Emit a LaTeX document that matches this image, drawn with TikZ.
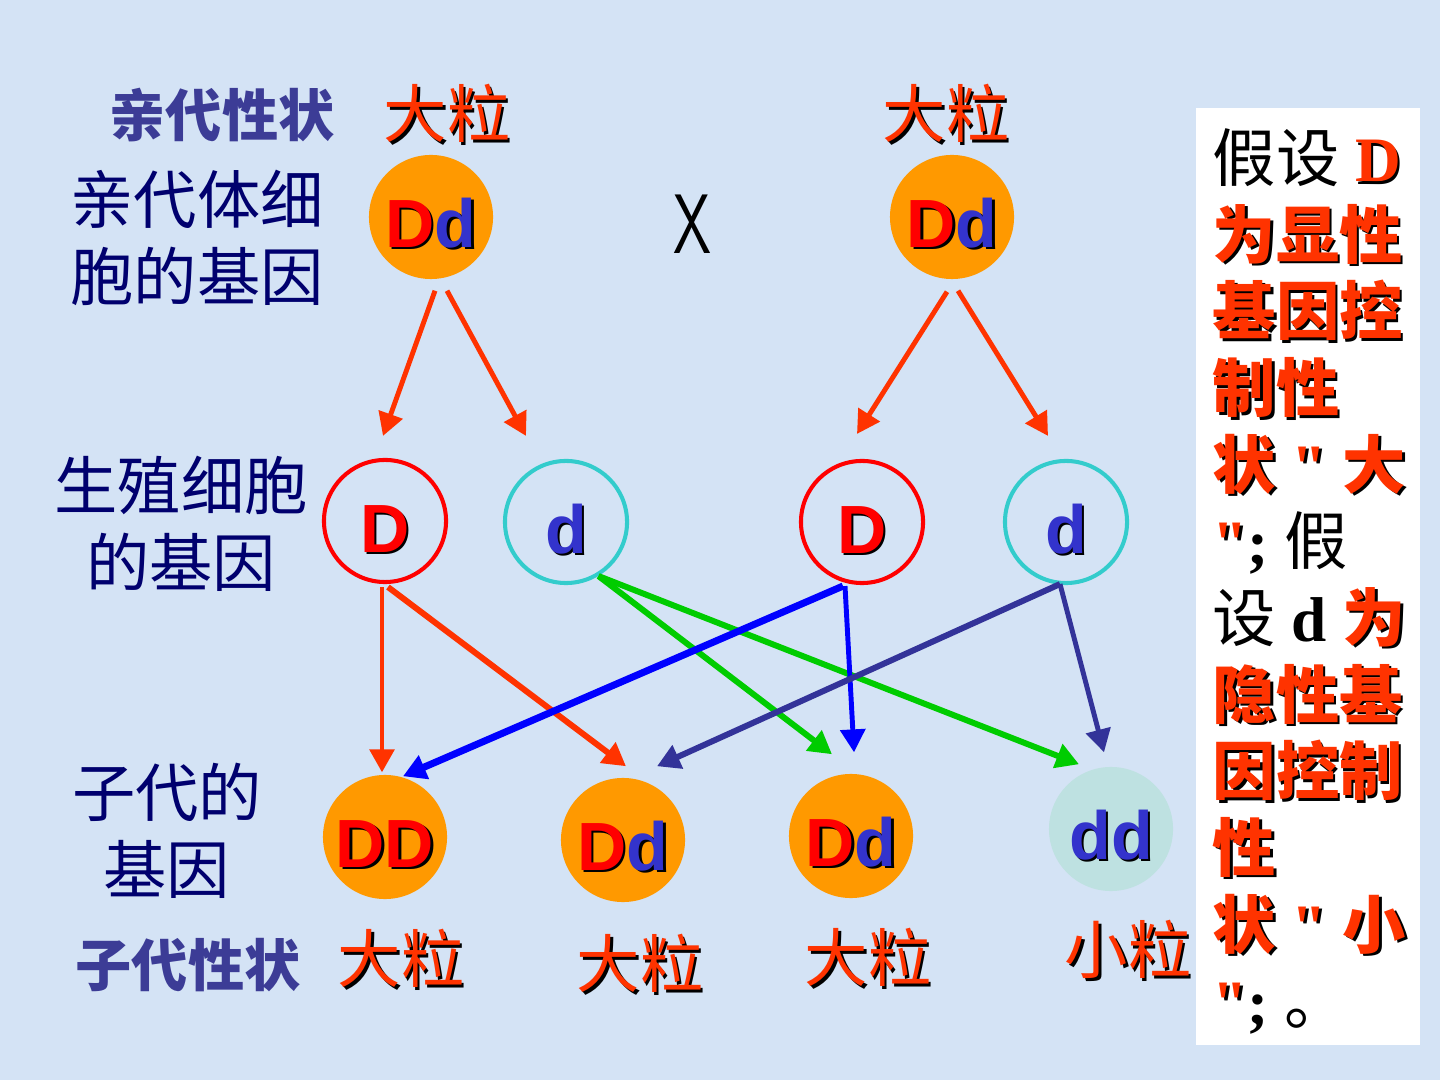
\documentclass[tikz,border=0pt]{standalone}
\usepackage{fontspec}
\setmainfont{Liberation Serif}
\newfontfamily\cjk{Noto Sans CJK SC}
\newfontfamily\arial{Liberation Sans}
\newfontfamily\tnr{Liberation Serif}
\usetikzlibrary{arrows.meta, positioning, calc}

\definecolor{bgblue}{RGB}{212,227,245}
\definecolor{navy}{RGB}{0,0,110}
\definecolor{slate}{RGB}{60,60,150}
\definecolor{tred}{RGB}{255,51,0}
\definecolor{gred}{RGB}{255,0,0}
\definecolor{gblue}{RGB}{51,51,204}
\definecolor{ball}{RGB}{255,153,0}
\definecolor{pale}{RGB}{190,225,225}
\definecolor{ringcyan}{RGB}{51,204,204}
\definecolor{agreen}{RGB}{0,204,0}
\definecolor{ablue}{RGB}{0,0,255}
\definecolor{aslate}{RGB}{51,51,153}

% text with a small black drop shadow
\newcommand\shd[2]{\makebox[0pt][l]{\hspace{0.7pt}\raisebox{-0.7pt}{\color{black}#2}}{\color{#1}#2}}

\begin{document}
\begin{tikzpicture}[
    x=0.01cm, y=-0.01cm,
    parent/.style={circle, fill=ball, minimum size=1.24cm, inner sep=0pt,
      text height=17.3pt, text depth=0pt,
      font=\arial\bfseries\fontsize{19.4}{20}\selectfont},
    kidpale/.style={parent, fill=pale},
    gamD/.style={circle, draw=gred, line width=1.15pt, minimum size=1.22cm, inner sep=0pt,
      text height=17.8pt, text depth=0pt,
      font=\arial\bfseries\fontsize{19.4}{20}\selectfont},
    gamd/.style={gamD, draw=ringcyan},
    rowlab/.style={font=\cjk\fontsize{18}{22}\selectfont, text=navy, align=center, inner sep=0pt},
    traitlab/.style={font=\cjk\bfseries\fontsize{16}{18}\selectfont, text=slate, inner sep=0pt},
    grain/.style={font=\cjk\fontsize{18}{20}\selectfont, inner sep=0pt},
    link/.style={-{Triangle[length=6.5pt,width=7pt]}, line width=#1},
    link/.default=1.4pt
  ]

    % Background
    \fill[bgblue] (0,0) rectangle (1440,1080);

    % Row labels
    \node[traitlab] (ptrait) at (222,115) {亲代性状};
    \node[rowlab] (prow) at (197,238) {亲代体细\\胞的基因};
    \node[rowlab] (grow) at (181,524) {生殖细胞\\的基因};
    \node[rowlab] (krow) at (167,831) {子代的\\基因};
    \node[traitlab] (ktrait) at (188,965) {子代性状};

    % Parents
    \node[grain] (pbig1) at (447,115) {\shd{tred}{大粒}};
    \node[grain] (pbig2) at (946,115) {\shd{tred}{大粒}};
    \node[parent] (p1) at (431,217) {\shd{gred}{D}\shd{gblue}{d}};
    \node[parent] (p2) at (952,217) {\shd{gred}{D}\shd{gblue}{d}};
    \node (cross) at (692,224) {\sffamily\fontsize{24}{24}\selectfont\scalebox{0.72}[1]{X}};

    % Gametes
    \node[gamD] (g1) at (385,521) {\shd{gred}{D}};
    \node[gamd] (g2) at (566,522) {\shd{gblue}{d}};
    \node[gamD] (g3) at (862,522) {\shd{gred}{D}};
    \node[gamd] (g4) at (1066,522) {\shd{gblue}{d}};

    % Offspring
    \node[parent] (o1) at (385,837) {\shd{gred}{DD}};
    \node[parent] (o2) at (623,840) {\shd{gred}{D}\shd{gblue}{d}};
    \node[parent] (o3) at (851,836) {\shd{gred}{D}\shd{gblue}{d}};
    \node[kidpale] (o4) at (1111,829) {\shd{gblue}{dd}};

    \foreach \n/\x/\y/\t in {1/401/960/大粒, 2/640/965/大粒, 3/868/959/大粒, 4/1128/951/小粒}
      \node[grain] (trait\n) at (\x,\y) {\shd{tred}{\t}};

    % Parent -> gamete arrows
    \draw[link, tred] ([shift={(4,11)}]p1.south) -- ([shift={(-2,-22)}]g1.north);
    \draw[link, tred] ([shift={(16,11)}]p1.south) -- ([shift={(-40,-23)}]g2.north);
    \draw[link, tred] ([shift={(-5,12)}]p2.south) -- ([shift={(-5,-25)}]g3.north);
    \draw[link, tred] ([shift={(6,11)}]p2.south) -- ([shift={(-18,-23)}]g4.north);

    % Gamete -> offspring arrows
    \draw[link=1.1pt, tred] ([shift={(-3,3)}]g1.south) -- ([shift={(-3,-2)}]o1.north);
    \draw[link=1.7pt, tred] ([shift={(3,3)}]g1.south) -- ([shift={(3,-11)}]o2.north);
    \draw[link=1.7pt, agreen] (g2.-59) -- ([shift={(-19,-19)}]o3.north);
    \draw[link=1.7pt, agreen] (g2.-59) -- ([shift={(-32,-2)}]o4.north);
    \draw[link=2pt, ablue] ([shift={(-19,1)}]g3.south) -- ([shift={(18,2)}]o1.north);
    \draw[link=1.4pt, ablue] ([shift={(-17,1)}]g3.south) -- ([shift={(3,-21)}]o3.north);
    \draw[link=1.7pt, aslate] ([shift={(-6,-1)}]g4.south) -- ([shift={(34,-11)}]o2.north);
    \draw[link=1.4pt, aslate] ([shift={(-6,-1)}]g4.south) -- ([shift={(-7,-14)}]o4.north);

    % Note panel
    \fill[white] (1196,108) rectangle (1420,1045);
    \node (note) [anchor=north west, align=left, inner sep=0pt,
      font=\tnr\bfseries\fontsize{18}{21.8}\selectfont] at (1212,128) {
      {\cjk\mdseries 假设} \shd{tred}{D}\\
      \shd{tred}{\cjk 为显性}\\
      \shd{tred}{\cjk 基因控}\\
      \shd{tred}{\cjk 制性}\\
      \shd{tred}{{\cjk 状} " {\cjk 大}}\\
      \shd{tred}{"}; {\cjk\mdseries 假}\\
      {\cjk\mdseries 设} d \shd{tred}{\cjk 为}\\
      \shd{tred}{\cjk 隐性基}\\
      \shd{tred}{\cjk 因控制}\\
      \shd{tred}{\cjk 性}\\
      \shd{tred}{{\cjk 状} " {\cjk 小}}\\
      \shd{tred}{"}; {\cjk\mdseries 。}};

  \end{tikzpicture}
\end{document}
